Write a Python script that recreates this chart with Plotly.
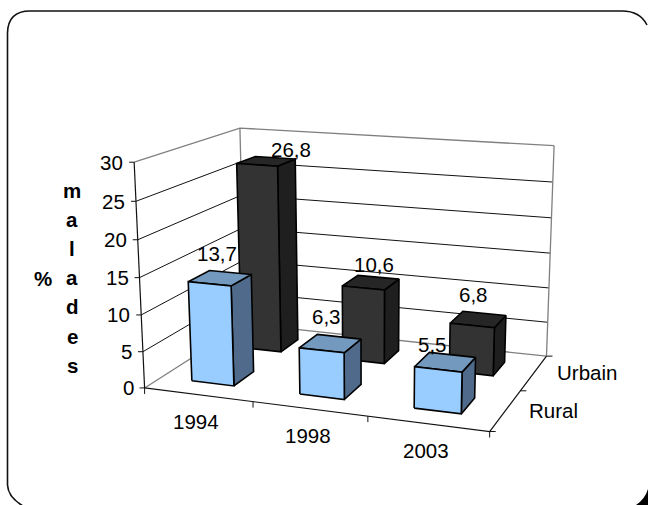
import numpy as np
import plotly.graph_objects as go

categories = ["1994", "1998", "2003"]
series_names = ["Rural", "Urbain"]
rural = [13.7, 6.3, 5.5]
urbain = [26.8, 10.6, 6.8]
value_ticks = [0, 5, 10, 15, 20, 25, 30]
rural_labels = ["13,7", "6,3", "5,5"]
urbain_labels = ["26,8", "10,6", "6,8"]

W, H = 648, 505
FONT = "Liberation Sans"
VMAX = 30.0

# Perspective camera of the chart box, fitted on its corners
box_3d = [(0, 0, 0), (1, 0, 0), (1, 1, 0), (0, 1, 0), (0, 0, 1), (0, 1, 1), (1, 1, 1)]
box_px = [(143.5, 387.3), (490, 431.7), (546, 356), (246, 324.5),
          (135, 162.7), (239, 127.7), (554.3, 145.7)]
A = []
for (a, b, c), (x, y) in zip(box_3d, box_px):
    A.append([a, b, c, 1, 0, 0, 0, 0, -x * a, -x * b, -x * c, -x])
    A.append([0, 0, 0, 0, a, b, c, 1, -y * a, -y * b, -y * c, -y])
P = np.linalg.svd(np.array(A, float))[2][-1].reshape(3, 4)


def project(u, v, val):
    h = P @ np.array([u, v, val / VMAX, 1.0])
    return float(h[0] / h[2]), float(h[1] / h[2])


fig = go.Figure()


def poly(points, fill=None, color="black", width=1.0):
    pts = [project(*p) for p in points]
    if fill:
        pts.append(pts[0])
    fig.add_trace(go.Scatter(
        x=[p[0] for p in pts], y=[p[1] for p in pts], mode="lines",
        line=dict(color=color, width=width), fill="toself" if fill else None,
        fillcolor=fill, hoverinfo="skip", showlegend=False))


GRAY = "#808080"
# walls and grid
for t in value_ticks[1:-1]:
    poly([(0, 0, t), (0, 1, t), (1, 1, t)], color="#111111", width=1)
poly([(0, 0, 0), (0, 1, 0), (1, 1, 0)], color=GRAY, width=1.3)
poly([(0, 0, 30), (0, 1, 30), (1, 1, 30)], color=GRAY, width=1.3)
poly([(0, 1, 0), (0, 1, 30)], color=GRAY, width=1.3)
poly([(1, 1, 0), (1, 1, 30)], color=GRAY, width=1.3)
# axes
poly([(0, 0, 0), (0, 0, 30)], color="#111111", width=1.2)
poly([(0, 0, 0), (1, 0, 0), (1, 1, 0)], color="#111111", width=1.2)


def seg(p0, dx, dy):
    x0, y0 = project(*p0)
    fig.add_trace(go.Scatter(x=[x0, x0 + dx], y=[y0, y0 + dy], mode="lines",
                             line=dict(color="#111111", width=1),
                             hoverinfo="skip", showlegend=False))


for t in value_ticks:
    seg((0, 0, t), -5, 0)
for i in range(len(categories) + 1):
    seg((i / len(categories), 0, 0), 0, 6)
for j in range(len(series_names) + 1):
    seg((1, j / len(series_names), 0), 6, 0)

HU, HV, USHIFT = 0.066, 0.1, -0.004


def bar(i, vc, val, front, side, top):
    uc = (i + 0.5) / len(categories) + USHIFT
    u0, u1, v0, v1 = uc - HU, uc + HU, vc - HV, vc + HV
    poly([(u1, v0, 0), (u1, v1, 0), (u1, v1, val), (u1, v0, val)], side, "black", 1.6)
    poly([(u0, v0, val), (u1, v0, val), (u1, v1, val), (u0, v1, val)], top, "black", 1.6)
    poly([(u0, v0, 0), (u1, v0, 0), (u1, v0, val), (u0, v0, val)], front, "black", 1.6)


for i in range(len(categories)):
    bar(i, 0.75, urbain[i], "#333333", "#1F1F1F", "#262626")
for i in range(len(categories)):
    bar(i, 0.25, rural[i], "#99CCFF", "#4F6A8A", "#7399BF")

ann = []


def text(x, y, s, anchor="center", bold=False):
    ann.append(dict(x=x, y=y, xref="x", yref="y", text=f"<b>{s}</b>" if bold else s,
                    showarrow=False, xanchor=anchor, yanchor="middle",
                    font=dict(family=FONT, size=20.5, color="#000000")))


for t in value_ticks:
    x, y = project(0, 0, t)
    text(x - 9, y, str(t), "right")
for i, c in enumerate(categories):
    x, y = project((i + 0.5) / len(categories), 0, 0)
    text(x - 2, y + 27, c)
for j, s in enumerate(series_names):
    x, y = project(1, (j + 0.5) / len(series_names), 0)
    text(x + 21.5, y, s, "left")

rural_off = [(-4, -25), (-5.5, -27), (-14, -18)]
urbain_off = [(24, -12), (2, -18), (-6.5, -25)]
for i in range(len(categories)):
    uc = (i + 0.5) / len(categories)
    x, y = project(uc, 0.25, rural[i])
    text(x + rural_off[i][0], y + rural_off[i][1], rural_labels[i])
    x, y = project(uc, 0.75, urbain[i])
    text(x + urbain_off[i][0], y + urbain_off[i][1], urbain_labels[i])

title_letters = list("malades")
for k, ch in enumerate(title_letters):
    text(72, 190 + k * 29.2, ch, bold=True)
text(43, 278, "%", bold=True)

shapes = [
    dict(type="path", xref="x", yref="y",
         path="M 647,25 Q 640,11 622,11 L 30,11 Q 8,11 7.5,33 L 7.5,485 Q 8,497 23,506",
         line=dict(color="#111111", width=1.6), layer="above"),
    dict(type="path", xref="x", yref="y",
         path="M 648,489 Q 645,499 636,505 L 648,505 Z",
         line=dict(color="black", width=0), fillcolor="black", layer="above"),
]

fig.update_layout(
    width=W, height=H, margin=dict(l=0, r=0, t=0, b=0), autosize=False,
    paper_bgcolor="white", plot_bgcolor="white", showlegend=False,
    xaxis=dict(range=[0, W], visible=False, fixedrange=True),
    yaxis=dict(range=[H, 0], visible=False, fixedrange=True),
    annotations=ann, shapes=shapes)
fig.write_html("out.html", config={"displayModeBar": False},
               post_script="document.body.style.margin='0';document.body.style.overflow='hidden';")
